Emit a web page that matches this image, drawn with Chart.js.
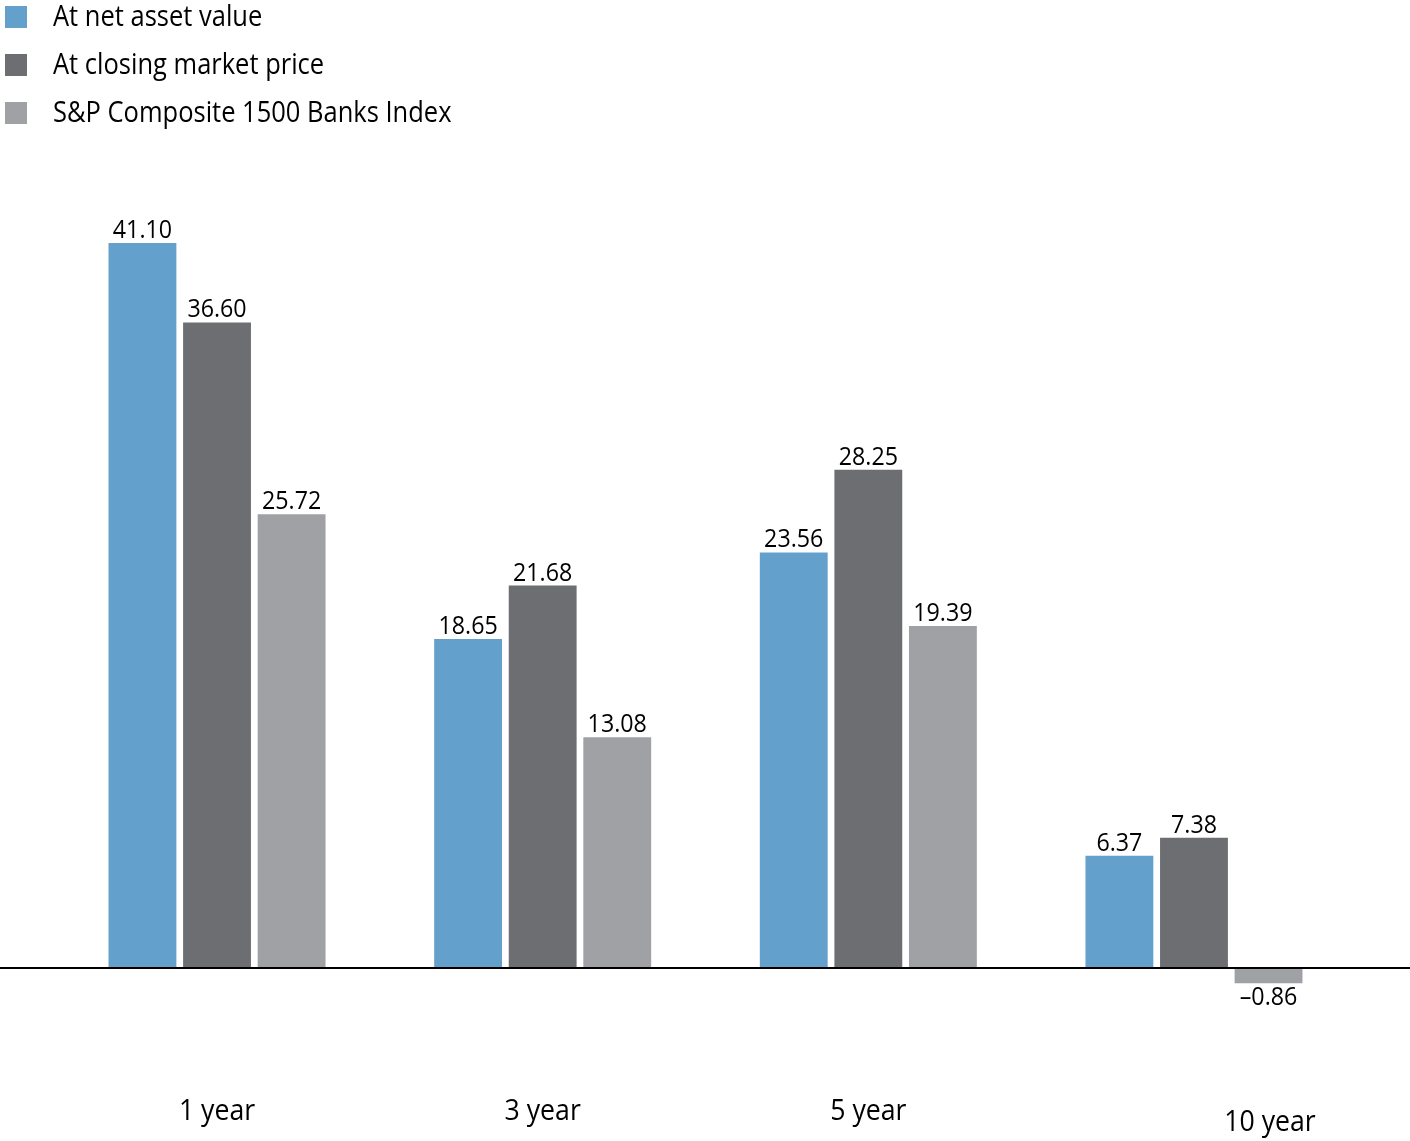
<!DOCTYPE html>
<html>
<head>
<meta charset="utf-8">
<script src="https://cdn.jsdelivr.net/npm/chart.js@4.4.0/dist/chart.umd.min.js"></script>
<style>
html,body{margin:0;padding:0;background:#fff;}
#wrap{width:1410px;height:1141px;position:relative;}
</style>
</head>
<body>
<div id="wrap"><canvas id="c"></canvas></div>
<script>
const categories = ["1 year", "3 year", "5 year", "10 year"];
const seriesNames = ["At net asset value", "At closing market price", "S&P Composite 1500 Banks Index"];
const navValues = [41.10, 18.65, 23.56, 6.37];
const marketValues = [36.60, 21.68, 28.25, 7.38];
const indexValues = [25.72, 13.08, 19.39, -0.86];
const colors = ["#64a0cc", "#6d6e71", "#a0a1a4"];

const FONT = "'Open Sans', 'Noto Sans', sans-serif";

function drawText(ctx, txt, x, y, sx) {
  ctx.save();
  ctx.translate(x, y);
  ctx.scale(sx, 1);
  ctx.fillText(txt, 0, 0);
  ctx.restore();
}

const zeroLine = {
  id: 'zeroLine',
  afterDatasetsDraw(chart) {
    const ctx = chart.ctx, y = chart.scales.y.getPixelForValue(0);
    ctx.save();
    ctx.strokeStyle = '#000';
    ctx.lineWidth = 1.8;
    ctx.beginPath();
    ctx.moveTo(0, y);
    ctx.lineTo(chart.width, y);
    ctx.stroke();
    ctx.restore();
  }
};

const valueLabels = {
  id: 'valueLabels',
  afterDatasetsDraw(chart) {
    const ctx = chart.ctx;
    ctx.save();
    ctx.font = "25px " + FONT;
    ctx.fillStyle = '#000';
    ctx.textAlign = 'center';
    chart.data.datasets.forEach((ds, i) => {
      chart.getDatasetMeta(i).data.forEach((bar, j) => {
        const v = ds.data[j];
        const txt = (v < 0 ? '\u2013' : '') + Math.abs(v).toFixed(2);
        if (v >= 0) {
          ctx.textBaseline = 'alphabetic';
          drawText(ctx, txt, bar.x, bar.y - 5, 0.93);
        } else {
          ctx.textBaseline = 'top';
          drawText(ctx, txt, bar.x, bar.y + 2, 0.93);
        }
      });
    });
    ctx.restore();
  }
};

const catLabels = {
  id: 'catLabels',
  afterDraw(chart) {
    const ctx = chart.ctx, xs = chart.scales.x;
    ctx.save();
    ctx.font = "29px " + FONT;
    ctx.fillStyle = '#000';
    ctx.textAlign = 'center';
    ctx.textBaseline = 'middle';
    categories.forEach((c, i) => {
      const last = i === categories.length - 1;
      const x = xs.getPixelForValue(i) + (last ? 76 : 0);
      drawText(ctx, c, x, last ? 1123 : 1112, 0.92);
    });
    ctx.restore();
  }
};

const customLegend = {
  id: 'customLegend',
  afterDraw(chart) {
    const ctx = chart.ctx;
    ctx.save();
    ctx.font = "30px " + FONT;
    ctx.textBaseline = 'middle';
    ctx.textAlign = 'left';
    chart.data.datasets.forEach((ds, i) => {
      const y = 17 + i * 48;
      ctx.fillStyle = ds.backgroundColor;
      ctx.fillRect(5, y - 11, 22, 22);
      ctx.fillStyle = '#000';
      drawText(ctx, ds.label, 53, y, 0.85);
    });
    ctx.restore();
  }
};

new Chart(document.getElementById('c'), {
  type: 'bar',
  data: {
    labels: categories,
    datasets: [
      { label: seriesNames[0], data: navValues, backgroundColor: colors[0] },
      { label: seriesNames[1], data: marketValues, backgroundColor: colors[1] },
      { label: seriesNames[2], data: indexValues, backgroundColor: colors[2] }
    ]
  },
  options: {
    responsive: true,
    maintainAspectRatio: false,
    animation: false,
    layout: { padding: { top: 174.2, bottom: 84.8, left: 54.2, right: 53.2 } },
    datasets: { bar: { categoryPercentage: 0.687, barPercentage: 0.91 } },
    plugins: { legend: { display: false }, tooltip: { enabled: false } },
    scales: {
      x: { display: false },
      y: { display: false, min: -5, max: 45 }
    }
  },
  plugins: [zeroLine, valueLabels, catLabels, customLegend]
});
</script>
</body>
</html>
